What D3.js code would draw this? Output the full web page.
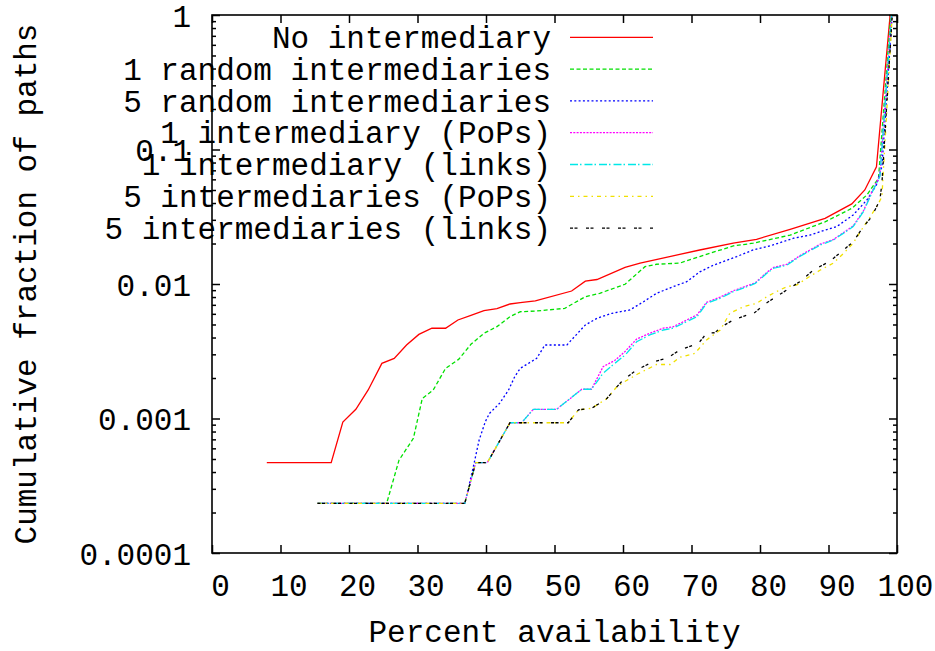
<!DOCTYPE html>
<html lang="en">
<head>
<meta charset="UTF-8">
<title>Cumulative fraction of paths vs percent availability</title>
<script src="https://cdnjs.cloudflare.com/ajax/libs/d3/7.8.5/d3.min.js"></script>
<style>
    body { margin: 0; background: #fff; }
    svg { display: block; }
    text { font-family: "Liberation Mono", "DejaVu Sans Mono", monospace; font-size: 31px; fill: #000; }
</style>
</head>
<body>
<svg id="chart" width="935" height="651"></svg>
<script>
    // values: [percent availability, cumulative fraction]
    var noIntermediary = [[8.0,0.00047],[17.4,0.00047],[19.1,0.00094],[21.0,0.00117],[22.8,0.00163],[24.8,0.00257],[26.6,0.0028],[28.4,0.00352],[30.2,0.00422],[32.1,0.00469],[34.1,0.00469],[35.9,0.0054],[37.8,0.00585],[39.7,0.00633],[41.6,0.00655],[43.5,0.0071],[45.0,0.00726],[47.2,0.00748],[52.5,0.00887],[54.5,0.0105],[56.2,0.0108],[60.3,0.0133],[62.5,0.0143],[67.3,0.0162],[71.2,0.0179],[76.1,0.0201],[79.5,0.0215],[84.4,0.0255],[89.5,0.0308],[93.4,0.0394],[95.3,0.05],[97.0,0.0745],[99.0,1]];
    var random1 = [[15.4,0.000234],[25.5,0.000234],[27.3,0.00049],[29.4,0.000712],[30.7,0.00141],[32.3,0.00163],[34.1,0.00236],[36.0,0.00275],[37.8,0.00356],[39.7,0.0043],[41.6,0.00482],[43.5,0.00571],[45.0,0.00622],[47.4,0.0063],[51.5,0.00659],[54.5,0.00805],[56.6,0.00853],[60.3,0.00995],[63.2,0.01346],[64.9,0.01402],[68.3,0.0143],[71.2,0.016],[76.1,0.0192],[79.0,0.0201],[84.4,0.0231],[89.5,0.029],[93.4,0.0365],[95.6,0.0459],[97.3,0.0611],[99.1,1]];
    var random5 = [[15.4,0.000234],[36.9,0.000234],[38.1,0.000426],[39.0,0.000692],[39.9,0.000947],[40.5,0.00109],[42.0,0.0013],[43.3,0.00163],[44.2,0.00205],[45.0,0.00236],[47.4,0.0028],[48.6,0.00352],[51.8,0.00352],[54.5,0.00496],[56.2,0.00556],[58.4,0.00606],[61.0,0.00641],[63.0,0.00738],[64.9,0.00853],[67.3,0.00955],[69.3,0.0104],[71.2,0.0123],[73.2,0.0138],[76.6,0.016],[79.0,0.0179],[81.9,0.0195],[84.9,0.0219],[87.3,0.0231],[88.8,0.0245],[91.2,0.0267],[93.6,0.0326],[95.6,0.0421],[97.0,0.0545],[97.8,0.0745],[99.3,1]];
    var pops1 = [[15.4,0.000234],[36.9,0.000234],[38.5,0.00047],[40.2,0.00047],[43.5,0.00093],[45.2,0.00093],[46.9,0.00117],[50.3,0.00117],[52.3,0.00141],[54.0,0.00165],[55.4,0.00165],[57.1,0.00243],[58.8,0.0027],[60.3,0.00315],[62.0,0.0039],[63.9,0.0043],[65.9,0.0047],[67.3,0.0048],[69.3,0.0054],[70.8,0.0059],[72.2,0.0073],[74.2,0.008],[76.1,0.0089],[78.1,0.0097],[79.3,0.0102],[81.0,0.0122],[82.0,0.0133],[83.9,0.014],[85.8,0.0162],[88.8,0.0198],[90.7,0.0214],[93.6,0.027],[95.1,0.035],[96.3,0.048],[97.5,0.064],[99.2,1]];
    var links1 = [[15.4,0.000234],[36.9,0.000234],[38.5,0.00047],[40.2,0.00047],[43.5,0.00093],[45.2,0.00093],[46.9,0.00117],[50.3,0.00117],[52.3,0.00141],[54.0,0.00165],[55.4,0.00165],[57.1,0.00217],[58.8,0.00257],[60.3,0.00296],[62.0,0.00372],[63.9,0.00418],[65.9,0.00455],[67.3,0.00469],[69.3,0.00525],[70.8,0.00571],[72.2,0.00718],[74.2,0.00783],[76.1,0.00877],[78.1,0.00955],[79.3,0.0101],[81.0,0.012],[82.0,0.0131],[83.9,0.0138],[85.8,0.016],[88.8,0.0195],[90.7,0.0212],[93.6,0.0267],[95.1,0.0345],[96.3,0.0472],[97.5,0.0628],[99.2,1]];
    var pops5 = [[15.4,0.000234],[36.9,0.000234],[38.5,0.00047],[40.2,0.00047],[43.5,0.00093],[52.0,0.00093],[53.5,0.00116],[55.4,0.00119],[57.6,0.0014],[59.1,0.00172],[60.0,0.00185],[62.2,0.00215],[64.9,0.00252],[66.9,0.00252],[68.3,0.00285],[70.5,0.00305],[72.2,0.00384],[74.2,0.00455],[75.6,0.00606],[77.6,0.00678],[79.5,0.00718],[81.0,0.00805],[82.4,0.00877],[83.9,0.00955],[85.4,0.00984],[86.8,0.011],[88.8,0.0127],[90.7,0.0143],[92.2,0.0169],[93.6,0.0201],[94.8,0.0252],[96.1,0.0316],[97.3,0.0398],[97.8,0.0446],[99.3,1]];
    var links5 = [[15.4,0.000234],[36.9,0.000234],[38.5,0.00047],[40.2,0.00047],[43.5,0.00093],[52.0,0.00093],[53.5,0.00116],[55.4,0.00119],[57.6,0.0014],[59.1,0.00172],[60.0,0.00193],[62.0,0.0023],[64.4,0.00264],[66.4,0.0028],[68.3,0.00323],[70.3,0.00352],[71.2,0.00372],[72.2,0.0043],[73.4,0.00434],[74.4,0.00482],[76.1,0.0054],[78.1,0.00588],[79.0,0.00598],[80.5,0.00698],[82.0,0.00783],[83.9,0.00902],[85.8,0.0104],[87.8,0.0127],[89.7,0.0143],[90.7,0.0155],[92.2,0.0179],[93.6,0.0206],[95.1,0.0267],[96.3,0.0316],[97.5,0.0421],[97.8,0.0561],[99.3,1]];

    var seriesNames = ["No intermediary", "1 random intermediaries", "5 random intermediaries",
        "1 intermediary (PoPs)", "1 intermediary (links)", "5 intermediaries (PoPs)", "5 intermediaries (links)"];
    var xTicks = [0, 10, 20, 30, 40, 50, 60, 70, 80, 90, 100];
    var yTicks = [0.0001, 0.001, 0.01, 0.1, 1];
    var yTickLabels = ["0.0001", "0.001", "0.01", "0.1", "1"];

    var series = [noIntermediary, random1, random5, pops1, links1, pops5, links5];
    var colors = ["#ff0000", "#00e000", "#0000ff", "#ff00ff", "#00e8e8", "#f0e000", "#000000"];
    var dashes = [null, "4,2.5", "2,2.3", "2,1.3", "8,2,1.5,3", "4,4,1.5,4", "3,1.5,3,8.5"];

    var plotLeft = 212, plotRight = 897, plotTop = 15, plotBottom = 553;

    var svg = d3.select("#chart");
    svg.append("rect").attr("width", 935).attr("height", 651).attr("fill", "#fff");

    var x = d3.scaleLinear().domain([0, 100]).range([plotLeft, plotRight]);
    var y = d3.scaleLog().domain([0.0001, 1]).range([plotBottom, plotTop]);

    // minor ticks on the log axis
    var minorTicks = [];
    yTicks.slice(0, -1).forEach(function (d) {
        for (var k = 2; k <= 9; k++) minorTicks.push(d * k);
    });

    var tickStyle = function (g) {
        g.select(".domain").remove();
        g.selectAll("line").attr("stroke", "#000").attr("stroke-width", 1.5);
    };

    svg.append("g").attr("transform", "translate(0," + plotBottom + ")")
        .call(d3.axisBottom(x).tickValues(xTicks).tickSize(-8).tickFormat(d3.format("d")))
        .call(tickStyle)
        .call(g => g.selectAll("text").attr("y", 43).attr("dy", 0).attr("dx", 8)
            .attr("fill", "#000").attr("font-size", null).attr("font-family", null));

    svg.append("g").attr("transform", "translate(0," + plotTop + ")")
        .call(d3.axisTop(x).tickValues(xTicks).tickSize(-8).tickFormat(""))
        .call(tickStyle);

    svg.append("g").attr("transform", "translate(" + plotLeft + ",0)")
        .call(d3.axisLeft(y).tickValues(yTicks).tickSize(-8).tickPadding(21)
            .tickFormat((d, i) => yTickLabels[i]))
        .call(tickStyle)
        .call(g => g.selectAll("text").attr("dy", 11)
            .attr("fill", "#000").attr("font-size", null).attr("font-family", null));

    svg.append("g").attr("transform", "translate(" + plotLeft + ",0)")
        .call(d3.axisLeft(y).tickValues(minorTicks).tickSize(-4).tickFormat(""))
        .call(tickStyle);

    svg.append("g").attr("transform", "translate(" + plotRight + ",0)")
        .call(d3.axisRight(y).tickValues(yTicks).tickSize(-8).tickFormat(""))
        .call(tickStyle);

    svg.append("g").attr("transform", "translate(" + plotRight + ",0)")
        .call(d3.axisRight(y).tickValues(minorTicks).tickSize(-4).tickFormat(""))
        .call(tickStyle);

    // key
    var keyY = d3.scaleLinear().domain([0, 1]).range([37.3, 69.1]);
    var key = svg.append("g");
    seriesNames.forEach(function (name, i) {
        key.append("text").attr("x", 551).attr("y", keyY(i) + 10.7)
            .attr("text-anchor", "end").text(name);
        key.append("line").attr("x1", 570).attr("x2", 653)
            .attr("y1", keyY(i)).attr("y2", keyY(i))
            .attr("stroke", colors[i]).attr("stroke-width", 1.3)
            .attr("stroke-dasharray", dashes[i]);
    });

    var line = d3.line().x(d => x(d[0])).y(d => y(d[1]));

    svg.append("g").selectAll("path")
        .data(series)
        .enter()
        .append("path")
        .attr("d", line)
        .attr("fill", "none")
        .attr("stroke", (d, i) => colors[i])
        .attr("stroke-width", 1.3)
        .attr("stroke-dasharray", (d, i) => dashes[i]);

    // frame
    svg.append("rect")
        .attr("x", plotLeft).attr("y", plotTop)
        .attr("width", plotRight - plotLeft).attr("height", plotBottom - plotTop)
        .attr("fill", "none").attr("stroke", "#000").attr("stroke-width", 1.6);

    svg.append("text")
        .attr("x", (plotLeft + plotRight) / 2).attr("y", 642)
        .attr("text-anchor", "middle")
        .text("Percent availability");

    svg.append("text")
        .attr("transform", "translate(36," + (plotTop + plotBottom) / 2 + ") rotate(-90)")
        .attr("text-anchor", "middle")
        .text("Cumulative fraction of paths");
</script>
</body>
</html>
